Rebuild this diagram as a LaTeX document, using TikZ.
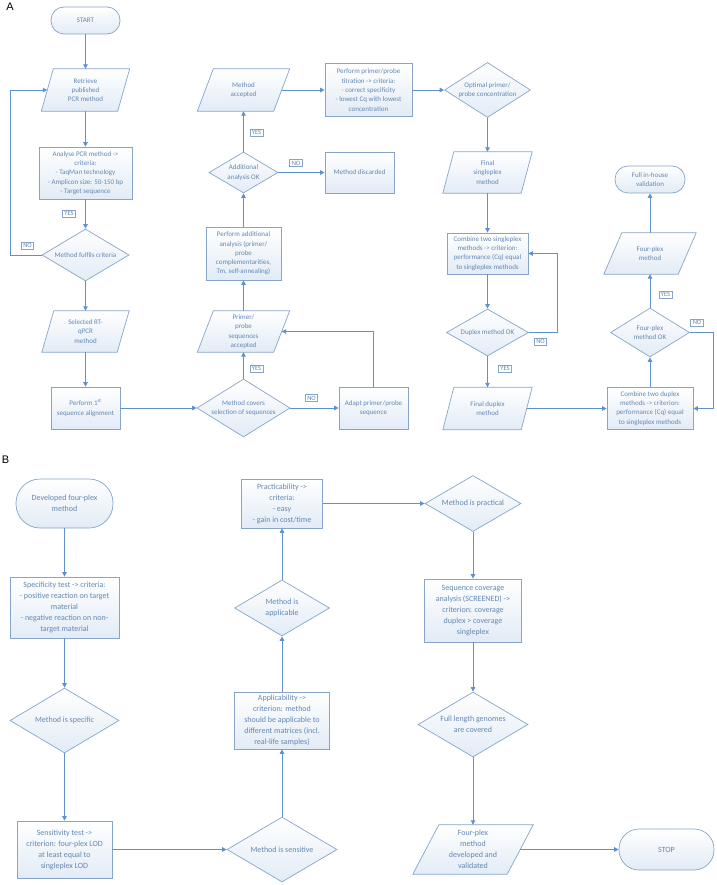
\documentclass[tikz,border=0pt]{standalone}
\usepackage{fontspec}
\setmainfont{Carlito}
\newfontfamily\arialf{Liberation Sans}
\usetikzlibrary{shapes.geometric,arrows.meta,backgrounds}
\definecolor{txtc}{RGB}{100,135,178}
\definecolor{brd}{RGB}{135,165,200}
\definecolor{arrc}{RGB}{95,145,205}
\definecolor{fillb}{RGB}{226,235,246}
\tikzset{
  sz/.style 2 args={minimum width=#1pt, minimum height=#2pt},
  fa/.style={font=\fontsize{7}{9.3}\selectfont},
  fb/.style={font=\fontsize{8}{11}\selectfont},
  base/.style={draw=brd, line width=0.7pt, top color=white, bottom color=fillb, text=txtc, inner sep=0pt, align=center},
  boxn/.style={base, rectangle},
  termn/.style={base, rectangle, rounded corners=#1pt},
  dian/.style={base, diamond},
  dtxt/.style={text=txtc, align=center, inner sep=0pt},
  paran/.style={rectangle, inner sep=0pt, align=center, text=txtc},
  pshape/.style={draw=brd, line width=0.7pt, top color=white, bottom color=fillb},
  arr/.style={draw=arrc, line width=0.9pt, -{Triangle[width=4.5pt,length=4.5pt]}},
  yn/.style={draw=brd, fill=white, text=txtc, font=\fontsize{6.5}{7.5}\selectfont, inner xsep=2pt, inner ysep=1.5pt, line width=0.6pt},
  panel/.style={font=\arialf\fontsize{11}{13}\selectfont, text=black, inner sep=0pt}
}
\begin{document}
\begin{tikzpicture}[x=1pt,y=-1pt]
\useasboundingbox (0,0) rectangle (716,885);

% ---------------- Panel A ----------------
\node[panel] (lA) at (10,7) {A};

\node[termn=13, sz={69}{27}, fa] (t1) at (85.5,20.5) {START};
\node[paran, sz={76}{42}, fa] (p1) at (85.5,90) {Retrieve\\published\\PCR method};
\node[boxn, sz={93}{52}, fa] (r1) at (85.5,173) {Analyse PCR method ->\\criteria:\\- TaqMan technology\\- Amplicon size: 50-150 bp\\- Target sequence};
\node[dian, sz={87}{52}] (d1) at (85.5,255) {};
\node[dtxt, fa] (d1t) at (d1) {Method fulfils criteria};
\node[paran, sz={75}{41}, fa] (p2) at (85.5,331.5) {Selected RT-\\qPCR\\method};
\node[boxn, sz={69}{42}, fa] (r2) at (85.5,408) {Perform 1\textsuperscript{st}\\sequence alignment};

\node[dian, sz={93}{58}] (d2) at (243.5,408) {};
\node[dtxt, fa] (d2t) at (d2) {Method covers\\selection of sequences};
\node[boxn, sz={69}{42}, fa] (r3) at (373.5,408) {Adapt primer/probe\\sequence};
\node[paran, sz={76}{41}, fa] (p3) at (243.5,331.5) {Primer/\\probe\\sequences\\accepted};
\node[boxn, sz={75}{53}, fa] (r4) at (243.5,253.5) {Perform additional\\analysis (primer/\\probe\\complementarities,\\Tm, self-annealing)};
\node[dian, sz={69}{41}] (d3) at (243.5,172.5) {};
\node[dtxt, fa] (d3t) at (d3) {Additional\\analysis OK};
\node[boxn, sz={69}{41}, fa] (r5) at (359.5,172.5) {Method discarded};
\node[paran, sz={76}{42}, fa] (p4) at (243.5,90) {Method\\accepted};
\node[boxn, sz={87}{53}, fa] (r6) at (368.5,90) {Perform primer/probe\\titration -> criteria:\\- correct specificity\\- lowest Cq with lowest\\concentration};
\node[dian, sz={86}{55}] (d4) at (487.5,90) {};
\node[dtxt, fa] (d4t) at (d4) {Optimal primer/\\probe concentration};
\node[paran, sz={78}{41}, fa] (p5) at (487.5,172.5) {Final\\singleplex\\method};
\node[boxn, sz={81}{41}, fa] (r7) at (487.5,253.5) {Combine two singleplex\\methods -> criterion:\\performance (Cq) equal\\to singleplex methods};
\node[dian, sz={82}{47}] (d5) at (487.5,332.5) {};
\node[dtxt, fa] (d5t) at (d5) {Duplex method OK};
\node[paran, sz={78}{42}, fa] (p6) at (487.5,408.5) {Final duplex\\method};
\node[boxn, sz={86}{42}, fa] (r8) at (650,408.5) {Combine two duplex\\methods -> criterion:\\performance (Cq) equal\\to singleplex methods};
\node[dian, sz={79}{49}] (d6) at (650,332.5) {};
\node[dtxt, fa] (d6t) at (d6) {Four-plex\\method OK};
\node[paran, sz={74}{41}, fa] (p7) at (650,253.5) {Four-plex\\method};
\node[termn=13, sz={70}{27}, fa] (t2) at (650,179.5) {Full in-house\\validation};

% yes/no labels A
\node[yn] (yes1) at (69,213.5) {YES};
\node[yn] (no1) at (27.5,245.5) {NO};
\node[yn] (yes2) at (256.5,368.5) {YES};
\node[yn] (no2) at (311.5,398) {NO};
\node[yn] (no3) at (296,163) {NO};
\node[yn] (yes3) at (256.5,132.5) {YES};
\node[yn] (no4) at (540.5,341.5) {NO};
\node[yn] (yes4) at (505,368.5) {YES};
\node[yn] (no5) at (697,322.5) {NO};
\node[yn] (yes5) at (665.5,294.5) {YES};

% connectors A
\draw[arr] (t1) -- (p1);
\draw[arr] (p1) -- (r1);
\draw[arr] (r1) -- (d1);
\draw[arr] (d1) -- (p2);
\draw[arr] (d1.west) -- ++(-31.5,0) |- (p1.west);
\draw[arr] (p2) -- (r2);
\draw[arr] (r2) -- (d2);
\draw[arr] (d2) -- (p3);
\draw[arr] (d2) -- (r3);
\draw[arr] (r3.north) |- (p3.east);
\draw[arr] (p3) -- (r4);
\draw[arr] (r4) -- (d3);
\draw[arr] (d3) -- (p4);
\draw[arr] (d3) -- (r5);
\draw[arr] (p4) -- (r6);
\draw[arr] (r6) -- (d4);
\draw[arr] (d4) -- (p5);
\draw[arr] (p5) -- (r7);
\draw[arr] (r7) -- (d5);
\draw[arr] (d5) -- (p6);
\draw[arr] (d5.east) -- ++(29,0) |- (r7.east);
\draw[arr] (p6) -- (r8);
\draw[arr] (r8) -- (d6);
\draw[arr] (d6) -- (p7);
\draw[arr] (p7) -- (t2);
\draw[arr] (d6.east) -- ++(24,0) |- (r8.east);

% ---------------- Panel B ----------------
\node[panel] (lB) at (5.5,459.5) {B};

\node[termn=24, sz={97}{49}, fb] (t3) at (64.5,503.5) {Developed four-plex\\method};
\node[boxn, sz={109}{61}, fb] (rb1) at (64.5,607.5) {Specificity test -> criteria:\\- positive reaction on target\\material\\- negative reaction on non-\\target material};
\node[dian, sz={109}{65}] (db1) at (64.5,720.5) {};
\node[dtxt, fb] (db1t) at (db1) {Method is specific};
\node[boxn, sz={95}{57}, fb] (rb2) at (64.5,849.5) {Sensitivity test ->\\criterion: four-plex LOD\\at least equal to\\singleplex LOD};
\node[dian, sz={110}{65}] (db2) at (282,849.5) {};
\node[dtxt, fb] (db2t) at (db2) {Method is sensitive};
\node[boxn, sz={95}{57}, fb] (rb3) at (282,720.5) {Applicability ->\\criterion: method\\should be applicable to\\different matrices (incl.\\real-life samples)};
\node[dian, sz={95}{56}] (db3) at (282,608) {};
\node[dtxt, fb] (db3t) at (db3) {Method is\\applicable};
\node[boxn, sz={81}{49}, fb] (rb4) at (282,503.5) {Practicability ->\\criteria:\\- easy\\- gain in cost/time};
\node[dian, sz={96}{56}] (db4) at (473,503.5) {};
\node[dtxt, fb] (db4t) at (db4) {Method is practical};
\node[boxn, sz={97}{63}, fb] (rb5) at (473,610.5) {Sequence coverage\\analysis (SCREENED) ->\\criterion: coverage\\duplex > coverage\\singleplex};
\node[dian, sz={110}{65}] (db5) at (473,724.5) {};
\node[dtxt, fb] (db5t) at (db5) {Full length genomes\\are covered};
\node[paran, sz={94}{49}, fb] (p8) at (473,849.5) {Four-plex\\method\\developed and\\validated};
\node[termn=20, sz={95}{41}, fb] (t4) at (666.5,849.5) {STOP};

% connectors B
\draw[arr] (t3) -- (rb1);
\draw[arr] (rb1) -- (db1);
\draw[arr] (db1) -- (rb2);
\draw[arr] (rb2) -- (db2);
\draw[arr] (db2) -- (rb3);
\draw[arr] (rb3) -- (db3);
\draw[arr] (db3) -- (rb4);
\draw[arr] (rb4) -- (db4);
\draw[arr] (db4) -- (rb5);
\draw[arr] (rb5) -- (db5);
\draw[arr] (db5) -- (p8);
\draw[arr] (p8) -- (t4);

% parallelogram outlines
\begin{pgfonlayer}{background}
\foreach \n/\s in {p1/6,p2/6,p3/8,p4/8,p5/5.5,p6/5.5,p7/9,p8/13}{
  \path[pshape] ([xshift=\s pt]\n.north west) -- ([xshift=\s pt]\n.north east)
     -- ([xshift=-\s pt]\n.south east) -- ([xshift=-\s pt]\n.south west) -- cycle;
}
\end{pgfonlayer}
\end{tikzpicture}
\end{document}
